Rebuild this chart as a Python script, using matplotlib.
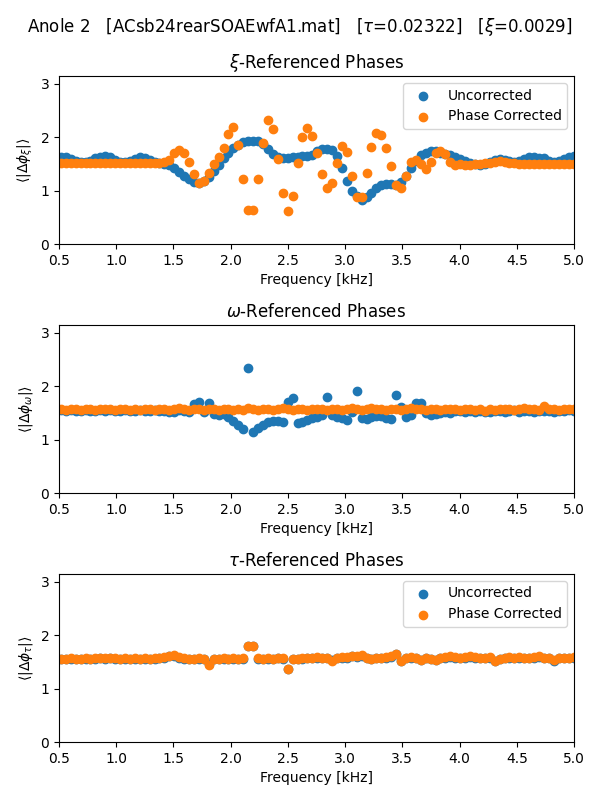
import numpy as np
import matplotlib
matplotlib.use("Agg")
import matplotlib.pyplot as plt

# frequency bins [kHz]
freq = [0.5168, 0.5599, 0.6029, 0.6460, 0.6891, 0.7321, 0.7752, 0.8183, 0.8613, 0.9044,
        0.9475, 0.9905, 1.0336, 1.0767, 1.1197, 1.1628, 1.2059, 1.2489, 1.2920, 1.3351,
        1.3781, 1.4212, 1.4643, 1.5073, 1.5504, 1.5935, 1.6365, 1.6796, 1.7227, 1.7657,
        1.8088, 1.8519, 1.8949, 1.9380, 1.9811, 2.0241, 2.0672, 2.1103, 2.1533, 2.1964,
        2.2395, 2.2825, 2.3256, 2.3687, 2.4117, 2.4548, 2.4979, 2.5409, 2.5840, 2.6271,
        2.6701, 2.7132, 2.7563, 2.7993, 2.8424, 2.8855, 2.9285, 2.9716, 3.0146, 3.0577,
        3.1008, 3.1438, 3.1869, 3.2300, 3.2730, 3.3161, 3.3592, 3.4022, 3.4453, 3.4884,
        3.5314, 3.5745, 3.6176, 3.6606, 3.7037, 3.7468, 3.7898, 3.8329, 3.8760, 3.9190,
        3.9621, 4.0052, 4.0482, 4.0913, 4.1344, 4.1774, 4.2205, 4.2636, 4.3066, 4.3497,
        4.3928, 4.4358, 4.4789, 4.5220, 4.5650, 4.6081, 4.6512, 4.6942, 4.7373, 4.7804,
        4.8234, 4.8665, 4.9096, 4.9526, 4.9957]

# xi-referenced
xi_unc = [1.63, 1.62, 1.59, 1.56, 1.54, 1.54, 1.56, 1.60, 1.63, 1.65,
          1.63, 1.58, 1.54, 1.53, 1.55, 1.59, 1.62, 1.61, 1.57, 1.53,
          1.51, 1.50, 1.47, 1.42, 1.35, 1.27, 1.21, 1.16, 1.14, 1.17,
          1.25, 1.36, 1.48, 1.60, 1.70, 1.79, 1.85, 1.90, 1.92, 1.93,
          1.92, 1.87, 1.78, 1.68, 1.62, 1.60, 1.61, 1.62, 1.63, 1.64,
          1.64, 1.66, 1.73, 1.77, 1.78, 1.75, 1.64, 1.42, 1.18, 1.00,
          0.89, 0.83, 0.87, 0.96, 1.05, 1.10, 1.12, 1.12, 1.11, 1.16,
          1.28, 1.42, 1.56, 1.66, 1.71, 1.73, 1.73, 1.71, 1.68, 1.66,
          1.63, 1.59, 1.55, 1.51, 1.49, 1.48, 1.50, 1.53, 1.57, 1.59,
          1.58, 1.55, 1.53, 1.55, 1.59, 1.62, 1.62, 1.61, 1.60, 1.56,
          1.53, 1.55, 1.59, 1.63, 1.65]
xi_cor = [1.51, 1.52, 1.51, 1.51, 1.52, 1.51, 1.51, 1.52, 1.52, 1.51,
          1.51, 1.52, 1.51, 1.52, 1.52, 1.51, 1.52, 1.52, 1.51, 1.51,
          1.51, 1.53, 1.58, 1.70, 1.75, 1.70, 1.53, 1.30, 1.15, 1.17,
          1.32, 1.50, 1.63, 1.80, 2.05, 2.18, 1.85, 1.21, 0.64, 0.64,
          1.21, 1.89, 2.32, 2.15, 1.59, 0.95, 0.62, 0.90, 1.52, 2.00,
          2.17, 2.02, 1.71, 1.31, 1.05, 1.15, 1.51, 1.84, 1.72, 1.27,
          0.88, 0.87, 1.33, 1.81, 2.07, 2.04, 1.79, 1.45, 1.10, 1.04,
          1.28, 1.53, 1.58, 1.49, 1.41, 1.53, 1.71, 1.74, 1.68, 1.53,
          1.47, 1.49, 1.48, 1.48, 1.49, 1.50, 1.51, 1.52, 1.54, 1.55,
          1.54, 1.52, 1.51, 1.50, 1.50, 1.50, 1.49, 1.50, 1.50, 1.49,
          1.49, 1.49, 1.50, 1.50, 1.49]

# omega-referenced
om_unc = [1.55, 1.54, 1.55, 1.53, 1.54, 1.55, 1.54, 1.53, 1.55, 1.54,
          1.55, 1.53, 1.54, 1.55, 1.53, 1.54, 1.55, 1.54, 1.53, 1.55,
          1.54, 1.53, 1.52, 1.51, 1.55, 1.53, 1.51, 1.67, 1.71, 1.51,
          1.69, 1.48, 1.46, 1.47, 1.43, 1.34, 1.27, 1.19, 2.33, 1.15,
          1.21, 1.28, 1.32, 1.35, 1.34, 1.33, 1.71, 1.77, 1.30, 1.33,
          1.36, 1.40, 1.43, 1.46, 1.80, 1.45, 1.43, 1.40, 1.36, 1.52,
          1.91, 1.40, 1.38, 1.43, 1.44, 1.44, 1.40, 1.38, 1.84, 1.61,
          1.43, 1.46, 1.68, 1.68, 1.49, 1.46, 1.48, 1.49, 1.52, 1.49,
          1.53, 1.54, 1.52, 1.53, 1.51, 1.53, 1.52, 1.52, 1.53, 1.54,
          1.52, 1.53, 1.55, 1.52, 1.53, 1.54, 1.52, 1.53, 1.54, 1.53,
          1.52, 1.54, 1.53, 1.55, 1.54]
om_cor = [1.57, 1.56, 1.58, 1.57, 1.56, 1.57, 1.58, 1.56, 1.57, 1.58,
          1.57, 1.56, 1.57, 1.58, 1.56, 1.57, 1.56, 1.58, 1.57, 1.56,
          1.57, 1.58, 1.56, 1.57, 1.59, 1.57, 1.56, 1.58, 1.57, 1.56,
          1.58, 1.57, 1.56, 1.57, 1.58, 1.56, 1.57, 1.55, 1.59, 1.57,
          1.56, 1.57, 1.58, 1.56, 1.57, 1.59, 1.57, 1.56, 1.58, 1.57,
          1.56, 1.57, 1.58, 1.57, 1.56, 1.58, 1.57, 1.56, 1.57, 1.59,
          1.57, 1.56, 1.58, 1.59, 1.58, 1.57, 1.56, 1.58, 1.57, 1.56,
          1.57, 1.59, 1.58, 1.57, 1.56, 1.57, 1.58, 1.56, 1.57, 1.58,
          1.57, 1.56, 1.57, 1.58, 1.56, 1.57, 1.53, 1.57, 1.56, 1.57,
          1.58, 1.57, 1.56, 1.57, 1.59, 1.58, 1.57, 1.56, 1.62, 1.58,
          1.57, 1.56, 1.57, 1.58, 1.57]

# tau-referenced
tau_unc = [1.56, 1.56, 1.56, 1.56, 1.55, 1.56, 1.56, 1.56, 1.57, 1.56,
           1.57, 1.56, 1.56, 1.56, 1.56, 1.56, 1.56, 1.56, 1.55, 1.56,
           1.57, 1.58, 1.60, 1.61, 1.58, 1.56, 1.56, 1.55, 1.56, 1.56,
           1.45, 1.55, 1.56, 1.56, 1.56, 1.56, 1.56, 1.56, 1.79, 1.79,
           1.56, 1.56, 1.56, 1.56, 1.57, 1.56, 1.37, 1.56, 1.55, 1.56,
           1.57, 1.57, 1.58, 1.57, 1.57, 1.53, 1.57, 1.58, 1.58, 1.60,
           1.59, 1.61, 1.57, 1.55, 1.57, 1.57, 1.58, 1.59, 1.64, 1.52,
           1.57, 1.58, 1.57, 1.53, 1.57, 1.56, 1.54, 1.57, 1.58, 1.59,
           1.58, 1.57, 1.58, 1.59, 1.58, 1.57, 1.57, 1.58, 1.52, 1.56,
           1.57, 1.58, 1.57, 1.58, 1.57, 1.57, 1.58, 1.59, 1.57, 1.57,
           1.52, 1.57, 1.57, 1.57, 1.58]
tau_cor = [1.56, 1.56, 1.57, 1.56, 1.55, 1.57, 1.56, 1.57, 1.58, 1.57,
           1.58, 1.57, 1.56, 1.57, 1.56, 1.57, 1.56, 1.57, 1.55, 1.57,
           1.58, 1.59, 1.61, 1.62, 1.59, 1.57, 1.56, 1.55, 1.57, 1.56,
           1.44, 1.55, 1.56, 1.57, 1.56, 1.57, 1.56, 1.57, 1.80, 1.80,
           1.57, 1.56, 1.57, 1.56, 1.58, 1.57, 1.36, 1.56, 1.55, 1.57,
           1.58, 1.57, 1.59, 1.58, 1.57, 1.52, 1.58, 1.59, 1.59, 1.61,
           1.60, 1.62, 1.57, 1.55, 1.57, 1.58, 1.59, 1.60, 1.65, 1.52,
           1.58, 1.59, 1.57, 1.53, 1.57, 1.56, 1.54, 1.58, 1.59, 1.60,
           1.59, 1.58, 1.59, 1.60, 1.59, 1.58, 1.57, 1.59, 1.52, 1.56,
           1.58, 1.59, 1.58, 1.59, 1.57, 1.58, 1.59, 1.60, 1.58, 1.57,
           1.53, 1.57, 1.58, 1.58, 1.59]

titles = [r"$\xi$-Referenced Phases", r"$\omega$-Referenced Phases", r"$\tau$-Referenced Phases"]
ylabels = [r"$\langle|\Delta\phi_\xi|\rangle$", r"$\langle|\Delta\phi_\omega|\rangle$",
           r"$\langle|\Delta\phi_\tau|\rangle$"]
unc_sets = [xi_unc, om_unc, tau_unc]
cor_sets = [xi_cor, om_cor, tau_cor]
show_legend = [True, False, True]

fig, axes = plt.subplots(3, 1, figsize=(6, 8), dpi=100)
fig.subplots_adjust(left=0.0983, right=0.9567, bottom=0.0725, top=0.905, hspace=0.482)

for ax, title, ylab, unc, cor, leg in zip(axes, titles, ylabels, unc_sets, cor_sets, show_legend):
    ax.scatter(freq, unc, label="Uncorrected")
    ax.scatter(freq, cor, label="Phase Corrected")
    ax.set_xlim(0.5, 5.0)
    ax.set_ylim(0, np.pi)
    ax.set_xticks(np.arange(0.5, 5.01, 0.5))
    ax.set_yticks([0, 1, 2, 3])
    ax.set_title(title)
    ax.set_xlabel("Frequency [kHz]")
    ax.set_ylabel(ylab)
    if leg:
        ax.legend(loc="upper right")

fig.suptitle(r"Anole 2   [ACsb24rearSOAEwfA1.mat]   [$\tau$=0.02322]   [$\xi$=0.0029]", y=0.98)
fig.savefig("out.png")
